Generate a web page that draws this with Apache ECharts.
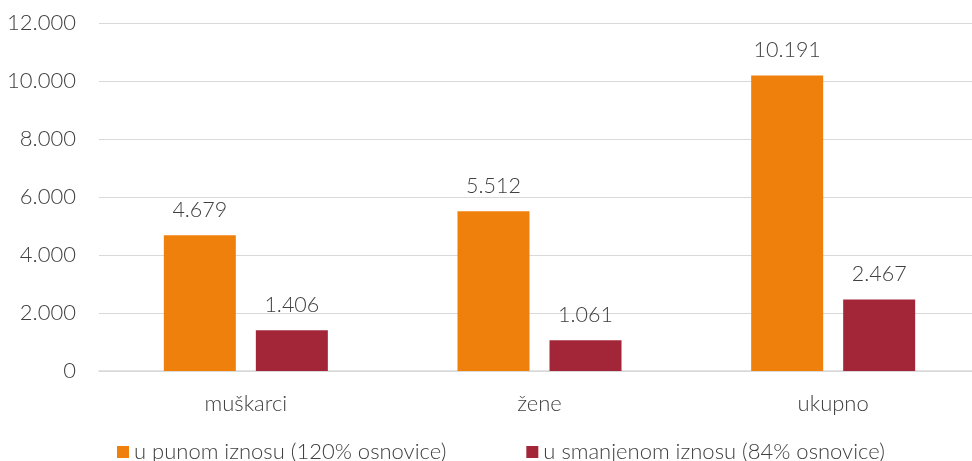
<!DOCTYPE html>
<html>
<head>
<meta charset="utf-8">
<script src="https://cdn.jsdelivr.net/npm/echarts@6/dist/echarts.min.js"></script>
<style>
  html, body { margin: 0; padding: 0; background: #fff; }
  #chart { width: 972px; height: 461px; }
</style>
</head>
<body>
<div id="chart"></div>
<script>
// data
const categories = ["muškarci", "žene", "ukupno"];
const punIznos = [4679, 5512, 10191];
const smanjeniIznos = [1406, 1061, 2467];
const seriesNames = ["u punom iznosu (120% osnovice)", "u smanjenom iznosu (84% osnovice)"];
const yTicks = [0, 2000, 4000, 6000, 8000, 10000, 12000];

const fontFamily = "Lato, 'Open Sans', sans-serif";
const textColor = "#404040";

// thousands separator with a dot
const fmt = (v) => String(v).replace(/\B(?=(\d{3})+(?!\d))/g, ".");

const chart = echarts.init(document.getElementById("chart"));

const labelStyle = {
  show: true,
  position: "top",
  distance: 14,
  color: textColor,
  fontFamily,
  fontSize: 21.5,
  fontWeight: 300,
  formatter: (p) => fmt(p.value),
};

chart.setOption({
  animation: false,
  textStyle: { fontFamily },
  grid: {
    left: 99,
    top: 23,
    width: 881,
    bottom: 90,
    containLabel: false,
    outerBoundsMode: "none",
  },
  legend: {
    top: 436,
    left: 112,
    itemWidth: 12,
    itemHeight: 12,
    itemGap: 80,
    icon: "rect",
    textStyle: { color: textColor, fontSize: 22, fontWeight: 300, fontFamily },
    data: seriesNames,
  },
  xAxis: {
    type: "category",
    data: categories,
    axisLine: { lineStyle: { color: "#d9d9d9", width: 1.5 } },
    axisTick: { show: false },
    axisLabel: { color: textColor, fontSize: 22, fontWeight: 300, margin: 22, fontFamily },
  },
  yAxis: {
    type: "value",
    min: yTicks[0],
    max: yTicks[yTicks.length - 1],
    interval: 2000,
    axisLine: { show: false },
    axisTick: { show: false },
    splitLine: { lineStyle: { color: "#d9d9d9", width: 1 } },
    axisLabel: {
      color: textColor,
      fontSize: 22,
      fontWeight: 300,
      margin: 23,
      fontFamily,
      formatter: (v) => fmt(v),
    },
  },
  series: [
    {
      name: seriesNames[0],
      type: "bar",
      data: punIznos,
      barWidth: 72,
      barGap: "27.8%",
      itemStyle: { color: "#f0800c" },
      label: labelStyle,
    },
    {
      name: seriesNames[1],
      type: "bar",
      data: smanjeniIznos,
      barWidth: 72,
      itemStyle: { color: "#a32638" },
      label: labelStyle,
    },
  ],
});
</script>
</body>
</html>
